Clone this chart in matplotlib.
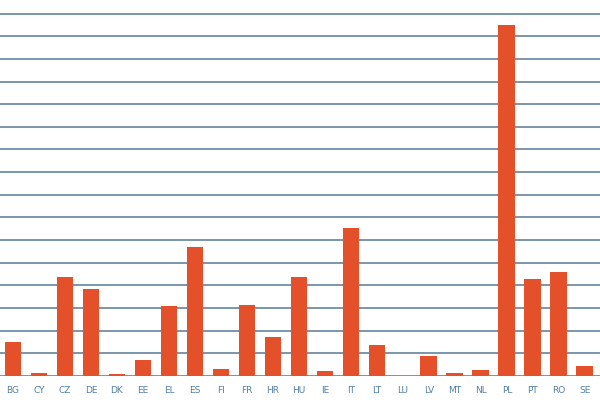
import numpy as np
import matplotlib.pyplot as plt

# country codes along the x axis
paises = ['BG', 'CY', 'CZ', 'DE', 'DK', 'EE', 'EL', 'ES', 'FI', 'FR', 'HR', 'HU',
          'IE', 'IT', 'LT', 'LU', 'LV', 'MT', 'NL', 'PL', 'PT', 'RO', 'SE']
valores = [1.51, 0.13, 4.38, 3.84, 0.09, 0.71, 3.09, 5.71, 0.29, 3.15, 1.71, 4.36,
           0.24, 6.52, 1.37, 0.0, 0.90, 0.13, 0.28, 15.5, 4.27, 4.58, 0.43]
lineas = np.arange(0, 17)

fig = plt.figure(figsize=(6, 4), dpi=100)
ax = fig.add_axes([0, 0.06, 1, 0.94])

x = np.arange(len(paises))
for y in lineas:
    ax.axhline(y, color='#6d8ea6', lw=1.3, zorder=1)
ax.bar(x, valores, width=0.65, color='#e4502a', zorder=2)

ax.set_xlim(-0.5, 22.58)
ax.set_ylim(0, 16.6)
ax.set_xticks(x)
ax.set_xticklabels(paises, fontsize=6.5, color='#4f7fa6')
ax.tick_params(axis='x', length=0, pad=7)
ax.set_yticks([])
for s in ax.spines.values():
    s.set_visible(False)

fig.savefig('out.png', dpi=100)
